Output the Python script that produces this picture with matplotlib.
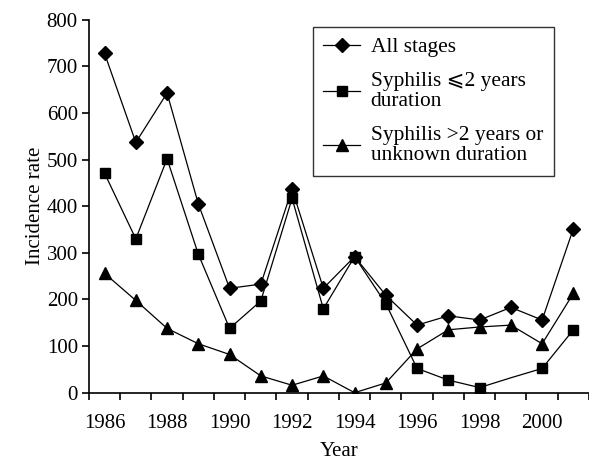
import numpy as np
import matplotlib
matplotlib.use('Agg')
import matplotlib.pyplot as plt

years = list(range(1986, 2002))
all_stages = [728, 537, 643, 405, 224, 233, 437, 224, 292, 209, 145, 165, 156, 183, 156, 352]
early = [471, 330, 502, 297, 138, 197, 417, 180, 292, 191, 52, 27, 11, 32, 52, 135]
late = [256, 198, 138, 105, 82, 36, 16, 36, 0, 21, 94, 135, 141, 145, 105, 213]
labels = ['All stages', 'Syphilis \u2a7d2 years\nduration', 'Syphilis >2 years or\nunknown duration']

plt.rcParams['font.family'] = ['Liberation Serif', 'DejaVu Serif', 'DejaVu Sans']
plt.rcParams['font.size'] = 15

fig = plt.figure(figsize=(5.89, 4.62), dpi=100)
ax = fig.add_axes([0.151, 0.150, 0.849, 0.807])

# the 1999 square is missing in the original, line only
early_marks = [i for i in range(len(years)) if years[i] != 1999]
ax.plot(years, all_stages, '-D', color='black', lw=0.9, markersize=7, label=labels[0])
ax.plot(years, early, '-s', color='black', lw=0.9, markersize=7, markevery=early_marks, label=labels[1])
ax.plot(years, late, '-^', color='black', lw=0.9, markersize=9, label=labels[2])

ax.set_xlim(1985.5, 2001.5)
ax.set_ylim(0, 800)
ax.set_yticks(range(0, 801, 100))
ax.set_xticks(np.arange(1985.5, 2002, 1))
ax.set_xticklabels([])
ax.set_xticks(range(1986, 2001, 2), minor=True)
ax.set_xticklabels([str(y) for y in range(1986, 2001, 2)], minor=True)
ax.tick_params(axis='x', which='minor', length=0, pad=15)
ax.tick_params(axis='x', which='major', length=5, width=1.2, direction='out')
ax.tick_params(axis='y', length=5, width=1.2, direction='out', pad=3)
for s in ['top', 'right']:
    ax.spines[s].set_visible(False)
for s in ['left', 'bottom']:
    ax.spines[s].set_linewidth(1.2)

ax.set_xlabel('Year', labelpad=7)
ax.set_ylabel('Incidence rate', labelpad=1)

leg = ax.legend(loc='upper left', bbox_to_anchor=(0.531, 0.942), bbox_transform=fig.transFigure,
                frameon=True, fancybox=False, edgecolor='black', handlelength=1.7,
                handletextpad=0.5, labelspacing=0.7, borderpad=0.5, borderaxespad=0,
                fontsize=15.4)
leg.get_frame().set_linewidth(1.0)
for t in leg.get_texts():
    t.set_linespacing(1.05)

fig.savefig('out.png', dpi=100)
